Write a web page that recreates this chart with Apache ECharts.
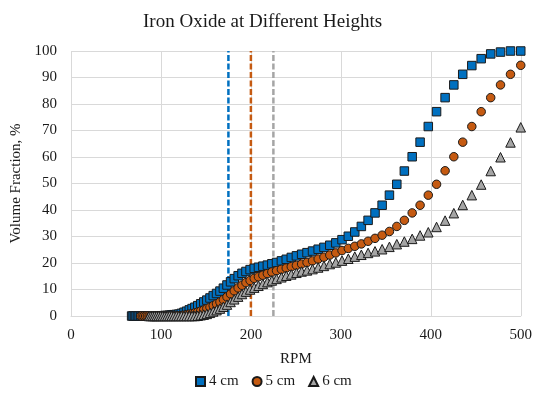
<!DOCTYPE html>
<html>
<head>
<meta charset="utf-8">
<script src="https://cdn.jsdelivr.net/npm/echarts@6/dist/echarts.min.js"></script>
<style>
html,body{margin:0;padding:0;background:#fff;}
#chart{width:535px;height:393px;}
</style>
</head>
<body>
<div id="chart"></div>
<script>
var rpm = [67.4, 69.0, 70.6, 72.3, 73.9, 75.7, 77.4, 79.2, 81.1, 83.0, 84.9, 86.9, 88.9, 91.0, 93.1, 95.3, 97.5, 99.8, 102.1, 104.5, 106.9, 109.4, 111.9, 114.5, 117.2, 119.9, 122.7, 125.6, 128.5, 131.5, 134.6, 137.7, 140.9, 144.2, 147.6, 151.0, 154.5, 158.1, 161.8, 165.6, 169.4, 173.4, 177.4, 181.5, 185.8, 190.1, 194.5, 199.1, 203.7, 208.4, 213.3, 218.3, 223.3, 228.5, 233.9, 239.3, 244.9, 250.6, 256.4, 262.4, 268.5, 274.8, 281.2, 287.7, 294.4, 301.3, 308.3, 315.5, 322.8, 330.3, 338.0, 345.9, 354.0, 362.2, 370.6, 379.3, 388.1, 397.2, 406.4, 415.9, 425.6, 435.5, 445.6, 456.0, 466.6, 477.5, 488.6, 500];

var cm4 = [0, 0, 0, 0, 0, 0, 0, 0, 0, 0, 0, 0, 0, 0, 0, 0, 0, 0.1, 0.1, 0.2, 0.2, 0.3, 0.4, 0.5, 0.6, 0.7, 1.0, 1.4, 1.8, 2.3, 2.8, 3.3, 3.9, 4.6, 5.3, 6.0, 6.8, 7.7, 8.5, 9.4, 10.5, 11.7, 12.9, 14.1, 15.2, 16.1, 16.8, 17.5, 18.0, 18.4, 18.8, 19.2, 19.7, 20.2, 20.8, 21.4, 22.1, 22.7, 23.3, 23.9, 24.5, 25.2, 25.9, 26.7, 27.6, 28.8, 30.1, 31.7, 33.8, 36.1, 38.9, 41.8, 45.6, 49.7, 54.7, 60.1, 65.6, 71.5, 77.1, 82.4, 87.2, 91.2, 94.5, 97.1, 98.9, 99.6, 100, 100];

var cm5 = [null, null, null, null, null, null, 0, 0, 0, 0, 0, 0, 0, 0, 0, 0, 0, 0, 0, 0, 0, 0, 0, 0, 0, 0.1, 0.2, 0.3, 0.5, 0.7, 0.9, 1.2, 1.5, 1.9, 2.3, 2.8, 3.3, 3.9, 4.6, 5.3, 6.2, 7.2, 8.3, 9.5, 10.6, 11.6, 12.6, 13.4, 14.2, 14.8, 15.4, 16.0, 16.6, 17.1, 17.6, 18.1, 18.6, 19.1, 19.6, 20.2, 20.8, 21.5, 22.2, 23.0, 23.8, 24.7, 25.5, 26.3, 27.2, 28.2, 29.3, 30.5, 31.9, 33.8, 36.1, 38.9, 41.8, 45.6, 49.7, 54.8, 60.1, 65.6, 71.5, 77.1, 82.4, 87.2, 91.2, 94.6];

var cm6 = [null, null, null, null, null, null, null, null, null, null, null, 0, 0, 0, 0, 0, 0, 0, 0, 0, 0, 0, 0, 0, 0, 0, 0, 0, 0, 0, 0, 0, 0.1, 0.3, 0.5, 0.8, 1.2, 1.7, 2.2, 2.8, 3.5, 4.3, 5.3, 6.3, 7.3, 8.3, 9.2, 10.0, 10.7, 11.4, 12.1, 12.8, 13.4, 14.0, 14.6, 15.2, 15.7, 16.3, 16.8, 17.2, 17.7, 18.3, 18.9, 19.6, 20.2, 20.9, 21.6, 22.4, 23.1, 23.8, 24.4, 25.2, 26.1, 27.1, 28.1, 29.1, 30.4, 31.6, 33.6, 36.0, 38.8, 41.9, 45.6, 49.6, 54.7, 59.9, 65.5, 71.2];

var seriesNames = ['4 cm', '5 cm', '6 cm'];
var refRpm = [175, 200, 225];
var xTicks = [0, 100, 200, 300, 400, 500];
var yTicks = [0, 10, 20, 30, 40, 50, 60, 70, 80, 90, 100];

var colors = ['#0070C0', '#C55A11', '#A5A5A5'];
var symbols = ['rect', 'circle', 'triangle'];
var symSizes = [8.5, 8.5, 9.5];
var font = '"Liberation Serif", "Times New Roman", serif';

function pairs(ys) {
  var out = [];
  for (var i = 0; i < rpm.length; i++) {
    if (ys[i] !== null && ys[i] !== undefined) out.push([rpm[i], ys[i]]);
  }
  return out;
}

var series = [];
refRpm.forEach(function (r, i) {
  series.push({
    type: 'line',
    data: [[r, yTicks[0]], [r, yTicks[yTicks.length - 1]]],
    showSymbol: false,
    symbol: 'none',
    silent: true,
    lineStyle: { color: colors[i], width: 2.5, type: [6, 2.5] },
    z: 1
  });
});
[cm4, cm5, cm6].forEach(function (ys, i) {
  series.push({
    name: seriesNames[i],
    type: 'scatter',
    data: pairs(ys),
    symbol: symbols[i],
    symbolSize: symSizes[i],
    clip: false,
    itemStyle: { color: colors[i], borderColor: '#1a1a1a', borderWidth: 1, opacity: 1 },
    z: 2 + i
  });
});

var chart = echarts.init(document.getElementById('chart'), null, { renderer: 'canvas' });
chart.setOption({
  animation: false,
  backgroundColor: '#ffffff',
  textStyle: { fontFamily: font },
  title: {
    text: 'Iron Oxide at Different Heights',
    left: 138,
    top: 8,
    textStyle: { fontFamily: font, fontSize: 19, fontWeight: 'normal', color: '#1a1a1a' }
  },
  legend: {
    data: seriesNames.map(function (n, i) { return { name: n, icon: symbols[i] }; }),
    bottom: -1,
    left: 190,
    itemWidth: 9,
    itemHeight: 9,
    itemGap: 13,
    textStyle: { fontFamily: font, fontSize: 15, color: '#1a1a1a', padding: [0, 0, 0, -1] }
  },
  grid: { left: 71, right: 14, top: 51, bottom: 77, containLabel: false },
  xAxis: {
    type: 'value',
    min: xTicks[0],
    max: xTicks[xTicks.length - 1],
    interval: 100,
    name: 'RPM',
    nameLocation: 'middle',
    nameGap: 36,
    nameTextStyle: { fontFamily: font, fontSize: 15, color: '#1a1a1a' },
    axisLine: { show: true, lineStyle: { color: '#D9D9D9', width: 1 } },
    axisTick: { show: false },
    axisLabel: { fontFamily: font, fontSize: 15, color: '#1a1a1a', margin: 12 },
    splitLine: { show: true, lineStyle: { color: '#D9D9D9', width: 1 } }
  },
  yAxis: {
    type: 'value',
    min: yTicks[0],
    max: yTicks[yTicks.length - 1],
    interval: 10,
    name: 'Volume Fraction, %',
    nameLocation: 'middle',
    nameGap: 44,
    nameTextStyle: { fontFamily: font, fontSize: 15, color: '#1a1a1a' },
    axisLine: { show: false },
    axisTick: { show: false },
    axisLabel: { fontFamily: font, fontSize: 15, color: '#1a1a1a', margin: 14 },
    splitLine: { show: true, lineStyle: { color: '#D9D9D9', width: 1 } }
  },
  series: series
});
</script>
</body>
</html>
